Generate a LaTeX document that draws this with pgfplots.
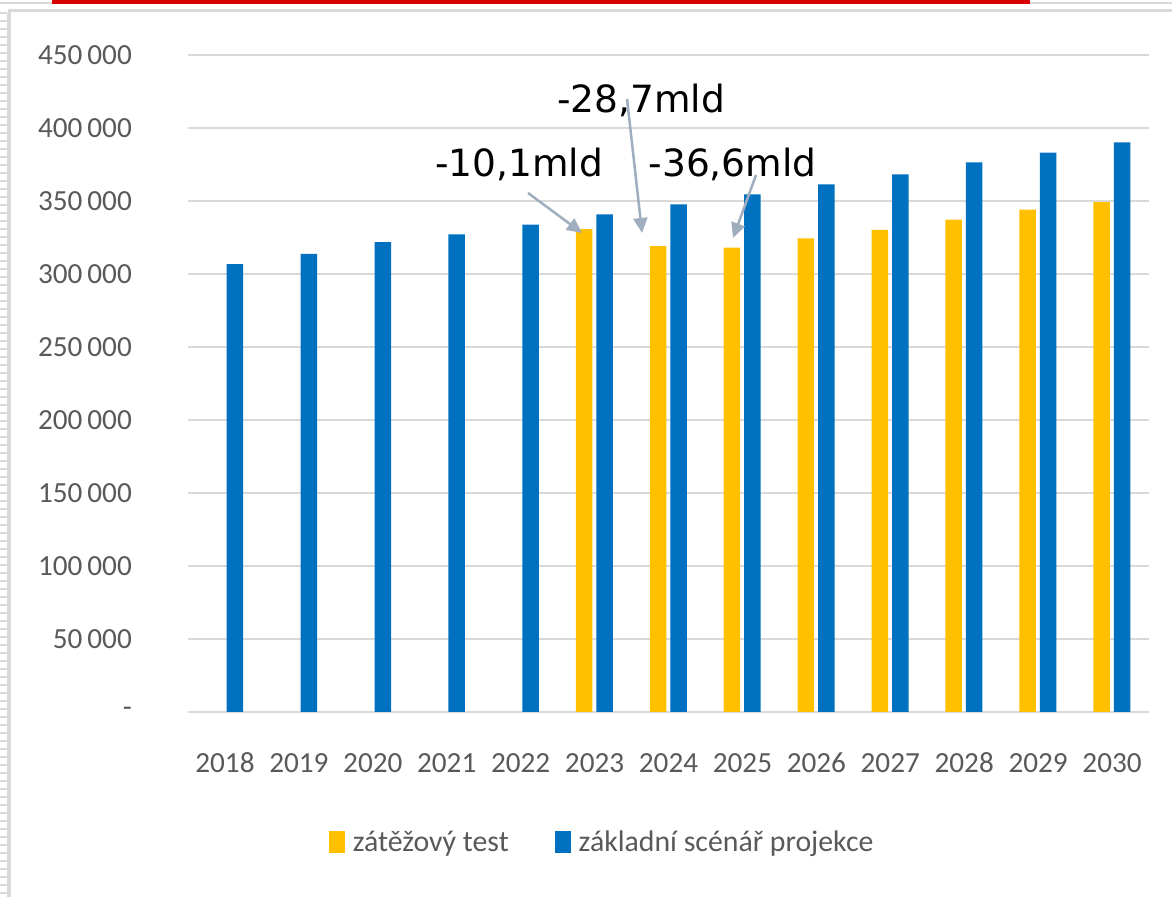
\documentclass[border=0pt]{standalone}
\usepackage{fontspec}
\setmainfont{Carlito}
\newfontfamily\annotfont{DejaVu Sans}
\usepackage{pgfplots}
\usepackage{pgfplotstable}
\pgfplotsset{compat=1.18}
\usetikzlibrary{arrows.meta}
\definecolor{stress}{HTML}{FFC000}
\definecolor{basecol}{HTML}{0070C0}
\definecolor{gridgray}{HTML}{D9D9D9}
\definecolor{labelgray}{HTML}{595959}
\definecolor{arrowgray}{HTML}{9FAEBF}
\definecolor{slidered}{HTML}{D90000}

% stress test (zátěžový test), 2023-2030
\pgfplotstableread{
idx value
5  330700
6  319000
7  318000
8  324400
9  330200
10 337200
11 344000
12 349300
}\stresstable

% baseline projection (základní scénář projekce), 2018-2030
\pgfplotstableread{
idx value
0  306800
1  313700
2  321800
3  327200
4  333800
5  340800
6  347700
7  354600
8  361300
9  368300
10 376400
11 383200
12 390200
}\basetable

\begin{document}
\begin{tikzpicture}[x=1bp,y=1bp]
\path[use as bounding box] (0,0) rectangle (1172,897);

% slide decoration
\draw[gridgray, line width=1.5bp] (0,894) -- (1172,894);
\fill[slidered] (52,893) rectangle (1030,897);
\draw[gridgray, line width=3bp] (9.5,0) -- (9.5,886) -- (1172,886);
\draw[gridgray, line width=1bp] (7,0) -- (7,884);
\foreach \k in {0,...,110} \draw[gridgray, line width=1.2bp] (0,{884-8*\k}) -- (7,{884-8*\k});

\begin{axis}[
  at={(188bp,185bp)}, anchor=south west,
  scale only axis, width=961bp, height=657bp,
  ybar, bar width=16.5bp,
  xmin=-0.5, xmax=12.5, ymin=0, ymax=450000,
  scaled y ticks=false,
  xtick={0,...,12},
  xticklabels={2018,2019,2020,2021,2022,2023,2024,2025,2026,2027,2028,2029,2030},
  ytick={0,50000,100000,150000,200000,250000,300000,350000,400000,450000},
  yticklabels={-\hspace{13bp},50\,000,100\,000,150\,000,200\,000,250\,000,300\,000,350\,000,400\,000,450\,000},
  axis line style={draw=none},
  major tick length=0pt,
  ymajorgrids, grid style={gridgray, line width=2.5bp},
  tick label style={font=\fontsize{29.2bp}{31bp}\selectfont, text=labelgray},
  yticklabel style={anchor=east, inner sep=0pt, xshift=-56bp},
  xticklabel style={anchor=base, inner sep=0pt, yshift=-61bp},
  clip=false,
  legend columns=2,
  legend style={at={(0.431,-0.198)}, anchor=center, draw=none, fill=none,
    font=\fontsize{29.8bp}{31bp}\selectfont, text=labelgray,
    /tikz/every even column/.append style={column sep=44bp}},
  legend image code/.code={\fill[#1] (0bp,-11bp) rectangle (16bp,11bp); \path (22bp,0bp);},
]
\addplot[fill=stress, draw=none, bar shift=-10.5bp] table[x=idx, y=value] {\stresstable};
\addlegendentry{zátěžový test}
\addplot[fill=basecol, draw=none, bar shift=10bp] table[x=idx, y=value] {\basetable};
\addlegendentry{základní scénář projekce}

\node[font=\annotfont\fontsize{37.5bp}{40bp}\selectfont, anchor=base] at (axis cs:5.628,410300) {-28,7mld};
\node[font=\annotfont\fontsize{37.5bp}{40bp}\selectfont, anchor=base] at (axis cs:3.978,366600) {-10,1mld};
\node[font=\annotfont\fontsize{37.5bp}{40bp}\selectfont, anchor=base] at (axis cs:6.866,366600) {-36,6mld};

\draw[arrowgray, line width=2.5bp, -{Triangle[length=15bp,width=14bp]}] (axis cs:4.100,355500) -- (axis cs:4.830,328100);
\draw[arrowgray, line width=2.5bp, -{Triangle[length=15bp,width=14bp]}] (axis cs:5.439,419900) -- (axis cs:5.642,328100);
\draw[arrowgray, line width=2.5bp, -{Triangle[length=15bp,width=14bp]}] (axis cs:7.184,367800) -- (axis cs:6.873,324700);
\end{axis}
\end{tikzpicture}
\end{document}
